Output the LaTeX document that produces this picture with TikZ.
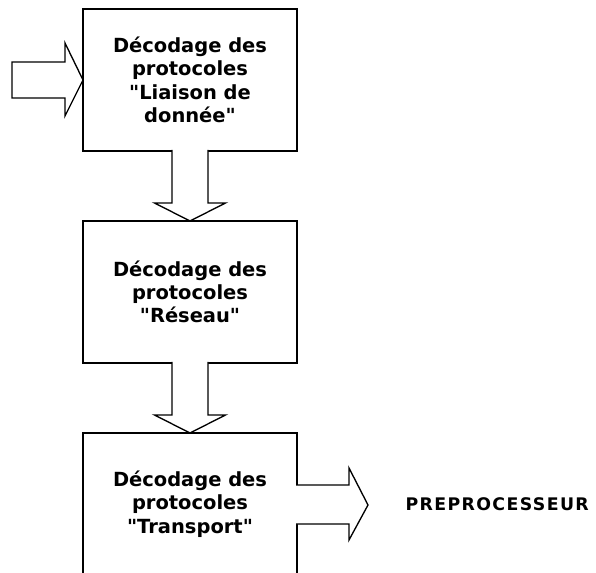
\documentclass[tikz,border=0pt]{standalone}
\usepackage{fontspec}
\setmainfont{DejaVu Sans}[Ligatures=TeXOff]
\usetikzlibrary{calc}

\tikzset{every picture/.style={line width=0.75pt}}
\tikzset{
  couche/.style={draw, line width=1pt, minimum width=160.5pt, minimum height=106.5pt,
    inner sep=0pt, outer sep=0pt, align=center,
    font=\bfseries\fontsize{14.6}{17.5}\selectfont},
  fleche/.style={draw, fill=white, line width=1pt, line join=miter},
  etiquette/.style={anchor=west, inner sep=0pt,
    font=\bfseries\fontsize{13}{15}\selectfont\addfontfeature{LetterSpace=8}},
}

\begin{document}
\begin{tikzpicture}[x=0.75pt,y=0.75pt,yscale=-1,xscale=1]
\useasboundingbox (0,0) rectangle (596,573);
\clip (0,0) rectangle (596,573);

%Boxes
\node[couche] (liaison) at (190,80) {Décodage des\\protocoles\\"Liaison de\\donnée"};
\node[couche] (reseau) at (190,292) {Décodage des\\protocoles\\"Réseau"};
\node[couche] (transport) at (190,504) {Décodage des\\protocoles\\"Transport"};

%Free ends
\coordinate (entree) at (12,80);
\coordinate (sortie) at (368,505);

% Text Node
\node[etiquette] (pre) at (405,504) {PREPROCESSEUR};

%Input arrow
\filldraw[fleche] (liaison.west) -- ($(liaison.west)+(-18,-37)$) -- ($(liaison.west)+(-18,-18)$)
  -- ($(entree)+(0,-18)$) -- ($(entree)+(0,18)$) -- ($(liaison.west)+(-18,18)$)
  -- ($(liaison.west)+(-18,36)$) -- cycle;
%Down arrows
\filldraw[fleche] ($(liaison.south)+(-18,-1)$) -- ($(liaison.south)+(-18,52)$) -- ($(liaison.south)+(-35.5,52)$)
  -- (reseau.north) -- ($(liaison.south)+(35.5,52)$) -- ($(liaison.south)+(18,52)$) -- ($(liaison.south)+(18,-1)$);
\filldraw[fleche] ($(reseau.south)+(-18,-1)$) -- ($(reseau.south)+(-18,52)$) -- ($(reseau.south)+(-35.5,52)$)
  -- (transport.north) -- ($(reseau.south)+(35.5,52)$) -- ($(reseau.south)+(18,52)$) -- ($(reseau.south)+(18,-1)$);
%Output arrow
\filldraw[fleche] ($(transport.east)+(-1,-19)$) -- ($(transport.east)+(52,-19)$) -- ($(transport.east)+(52,-36)$)
  -- (sortie) -- ($(transport.east)+(52,36)$) -- ($(transport.east)+(52,20)$) -- ($(transport.east)+(-1,20)$);

\end{tikzpicture}
\end{document}
